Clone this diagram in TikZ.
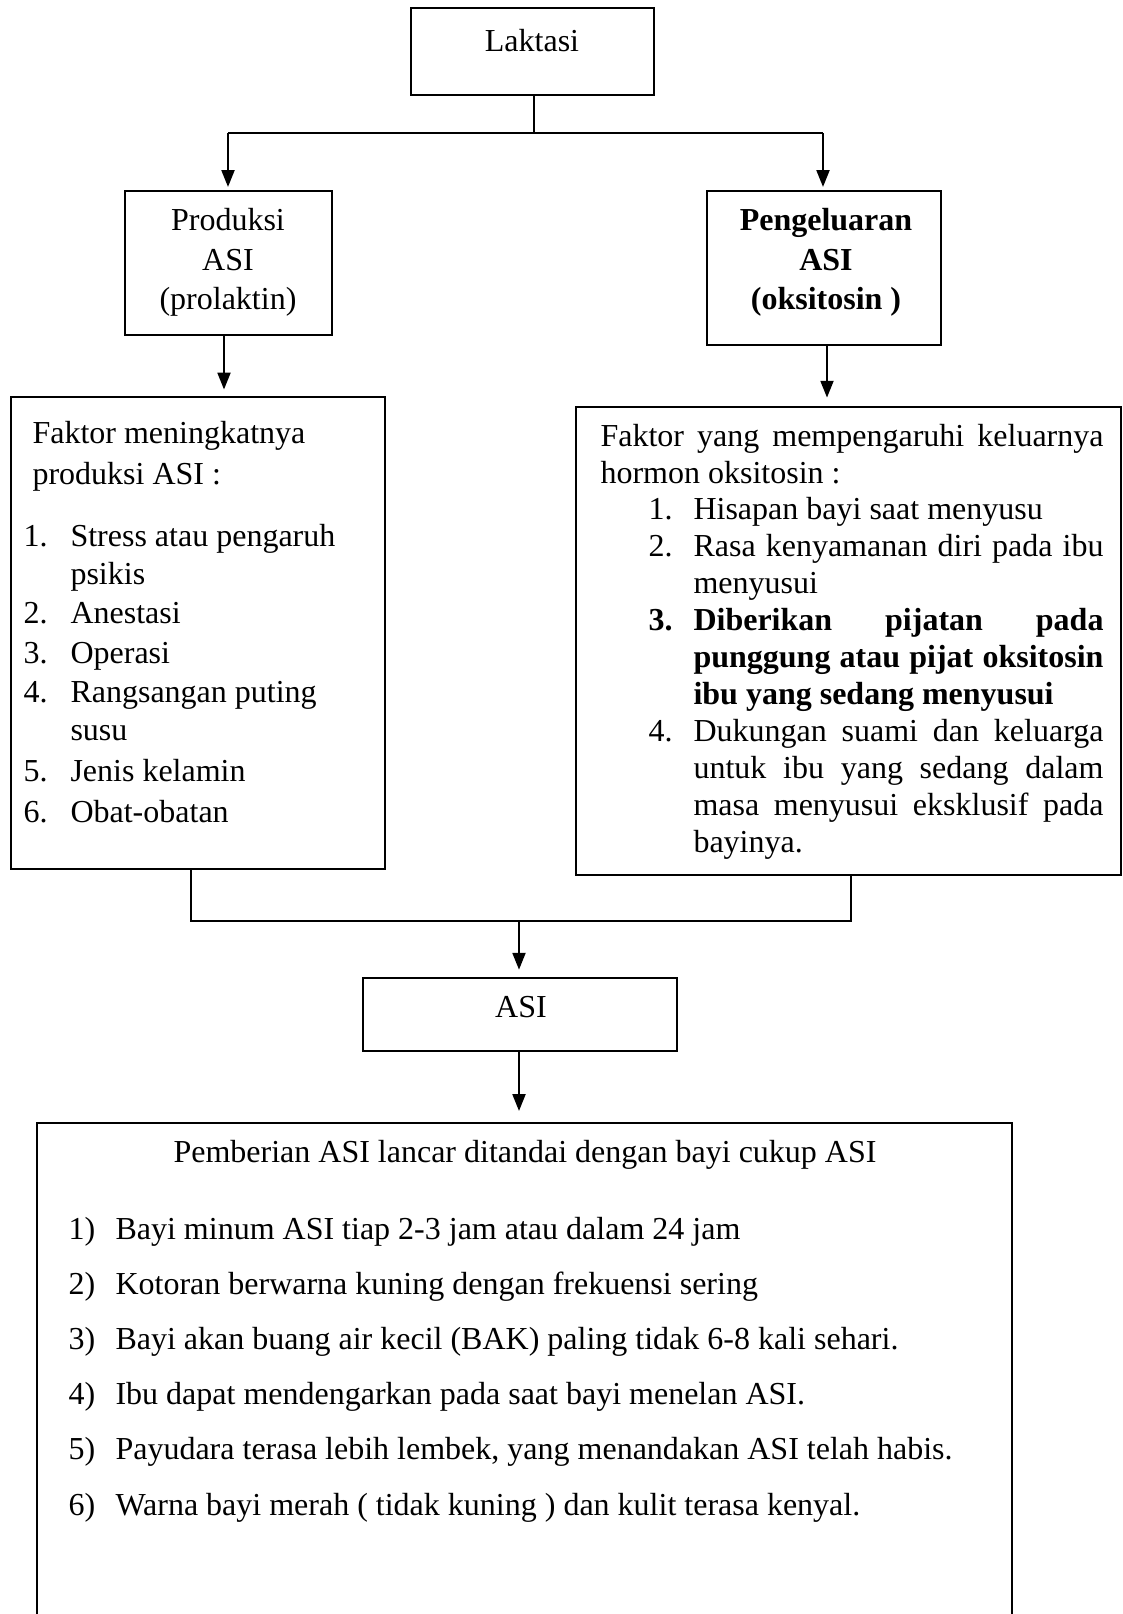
\documentclass[tikz,border=0pt]{standalone}
\usepackage{fontspec}
\setmainfont{Liberation Serif}
\usetikzlibrary{arrows.meta,fit,calc}
\newlength{\upx}
\setlength{\upx}{0.375pt}
\begin{document}
\begin{tikzpicture}[x=0.375pt,y=-0.375pt,
  box/.style={draw,line width=1pt,inner sep=0pt,fill=none},
  txt/.style={inner sep=0pt,anchor=base west,font=\fontsize{12pt}{14pt}\selectfont},
  ctxt/.style={inner sep=0pt,anchor=base,font=\fontsize{12pt}{14pt}\selectfont},
  thinln/.style={line width=0.45pt},
  arr/.style={line width=0.9pt,-{Triangle[length=6.3pt,width=4.8pt]}}]
\clip (0,0) rectangle (1123,1614);
\fill[white] (0,0) rectangle (1123,1614);

% boxes
\node[box,fit={(411,8)(654,95)}] (lak) {};
\node[box,fit={(125,191)(332,335)}] (prod) {};
\node[box,fit={(707,191)(941,345)}] (peng) {};
\node[box,fit={(11,397)(385,869)}] (fL) {};
\node[box,fit={(576,407)(1121,875)}] (fR) {};
\node[box,fit={(363,978)(677,1051)}] (asi) {};
\node[box,fit={(37,1123)(1012,1700)}] (hasil) {};

% top texts
\node[ctxt] (tlak) at (532,51) {Laktasi};
\node[ctxt] (tp1) at (228,230) {Produksi};
\node[ctxt] (tp2) at (228,270) {ASI};
\node[ctxt] (tp3) at (228,309) {(prolaktin)};
\node[ctxt,font=\fontsize{12pt}{14pt}\selectfont\bfseries] (tg1) at (826,230) {Pengeluaran};
\node[ctxt,font=\fontsize{12pt}{14pt}\selectfont\bfseries] (tg2) at (826,270) {ASI};
\node[ctxt,font=\fontsize{12pt}{14pt}\selectfont\bfseries] (tg3) at (826,309) {(oksitosin )};

% left box texts
\node[txt] (l0a) at (32,443) {Faktor meningkatnya};
\node[txt] (l0b) at (32,484) {produksi ASI :};
\node[txt] (n1) at (23,546) {1.};
\node[txt] (l1a) at (70,546) {Stress atau pengaruh};
\node[txt] (l1b) at (70,584) {psikis};
\node[txt] (n2) at (23,623) {2.};
\node[txt] (l2) at (70,623) {Anestasi};
\node[txt] (n3) at (23,663) {3.};
\node[txt] (l3) at (70,663) {Operasi};
\node[txt] (n4) at (23,702) {4.};
\node[txt] (l4a) at (70,702) {Rangsangan puting};
\node[txt] (l4b) at (70,740) {susu};
\node[txt] (n5) at (23,781) {5.};
\node[txt] (l5) at (70,781) {Jenis kelamin};
\node[txt] (n6) at (23,822) {6.};
\node[txt] (l6) at (70,822) {Obat-obatan};

% right box texts
\node[txt] (r0a) at (600,446) {\makebox[503\upx][s]{Faktor yang mempengaruhi keluarnya}};
\node[txt] (r0b) at (600,483) {hormon oksitosin :};
\node[txt] (m1) at (648,519) {1.};
\node[txt] (r1) at (693,519) {Hisapan bayi saat menyusu};
\node[txt] (m2) at (648,556) {2.};
\node[txt] (r2a) at (693,556) {\makebox[410\upx][s]{Rasa kenyamanan diri pada ibu}};
\node[txt] (r2b) at (693,593) {menyusui};
\node[txt,font=\fontsize{12pt}{14pt}\selectfont\bfseries] (m3) at (648,630) {3.};
\node[txt,font=\fontsize{12pt}{14pt}\selectfont\bfseries] (r3a) at (693,630) {\makebox[410\upx][s]{Diberikan pijatan pada}};
\node[txt,font=\fontsize{12pt}{14pt}\selectfont\bfseries] (r3b) at (693,667) {\makebox[410\upx][s]{punggung atau pijat oksitosin}};
\node[txt,font=\fontsize{12pt}{14pt}\selectfont\bfseries] (r3c) at (693,704) {ibu yang sedang menyusui};
\node[txt] (m4) at (648,741) {4.};
\node[txt] (r4a) at (693,741) {\makebox[410\upx][s]{Dukungan suami dan keluarga}};
\node[txt] (r4b) at (693,778) {\makebox[410\upx][s]{untuk ibu yang sedang dalam}};
\node[txt] (r4c) at (693,815) {\makebox[410\upx][s]{masa menyusui eksklusif pada}};
\node[txt] (r4d) at (693,852) {bayinya.};

% ASI
\node[ctxt] (tasi) at (521,1017) {ASI};

% bottom texts
\node[txt] (b0) at (173,1162) {Pemberian ASI lancar ditandai dengan bayi cukup ASI};
\node[txt] (k1) at (68,1239) {1)};
\node[txt] (b1) at (115,1239) {Bayi minum ASI tiap 2-3 jam atau dalam 24 jam};
\node[txt] (k2) at (68,1294) {2)};
\node[txt] (b2) at (115,1294) {Kotoran berwarna kuning dengan frekuensi sering};
\node[txt] (k3) at (68,1349) {3)};
\node[txt] (b3) at (115,1349) {Bayi akan buang air kecil (BAK) paling tidak 6-8 kali sehari.};
\node[txt] (k4) at (68,1404) {4)};
\node[txt] (b4) at (115,1404) {Ibu dapat mendengarkan pada saat bayi menelan ASI.};
\node[txt] (k5) at (68,1459) {5)};
\node[txt] (b5) at (115,1459) {Payudara terasa lebih lembek, yang menandakan ASI telah habis.};
\node[txt] (k6) at (68,1515) {6)};
\node[txt] (b6) at (115,1515) {Warna bayi merah ( tidak kuning ) dan kulit terasa kenyal.};

% connectors top
\coordinate (jT) at (534,133);
\coordinate (jL) at (228,133);
\coordinate (jR) at (823,133);
\draw[thinln] (lak.south -| jT) -- (jT);
\draw[thinln] (jL) -- (jR);
\draw[arr,shorten >=1pt] (jL) -- (jL |- prod.north);
\draw[arr,shorten >=1pt] (jR) -- (jR |- peng.north);

\coordinate (aL) at (224,0);
\coordinate (aR) at (827,0);
\draw[arr,shorten >=2.3pt] (prod.south -| aL) -- (fL.north -| aL);
\draw[arr,shorten >=3pt] (peng.south -| aR) -- (fR.north -| aR);

% connectors bottom
\coordinate (bL) at (191,921);
\coordinate (bR) at (851,921);
\coordinate (bM) at (519,921);
\draw[thinln] (fL.south -| bL) -- (bL) -- (bR) -- (fR.south -| bR);
\draw[arr,shorten >=2.6pt] (bM) -- (asi.north -| bM);
\draw[arr,shorten >=4pt] (asi.south -| bM) -- (hasil.north -| bM);
\end{tikzpicture}
\end{document}
